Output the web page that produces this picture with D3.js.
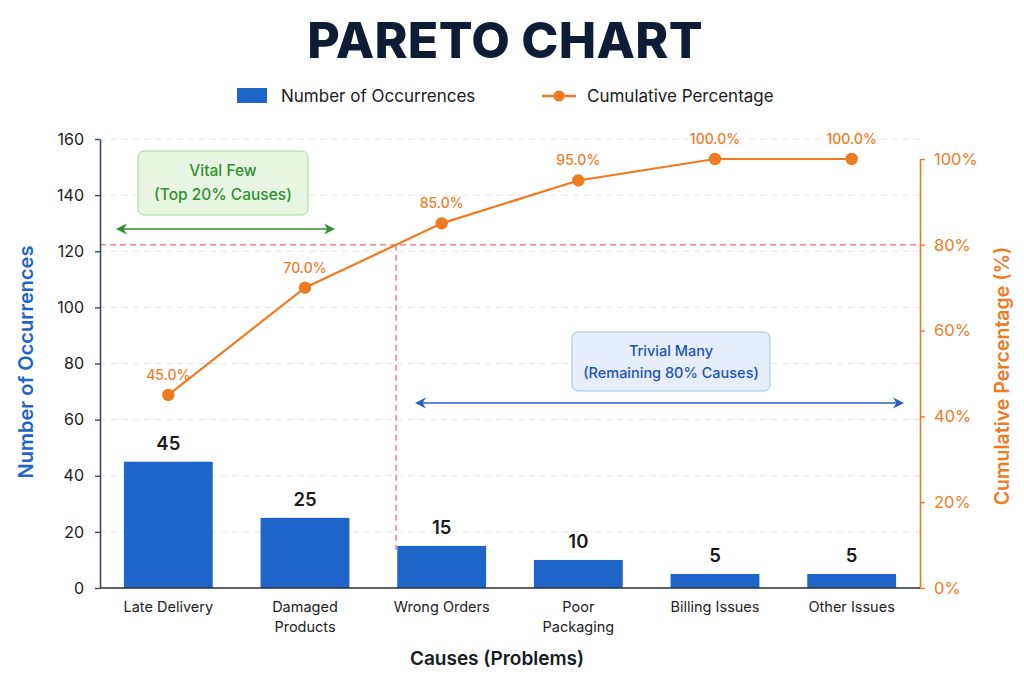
<!DOCTYPE html>
<html>
<head>
<meta charset="utf-8">
<script src="https://cdn.jsdelivr.net/npm/d3@7"></script>
<style>
  html, body { margin: 0; padding: 0; background: #ffffff; }
  svg { display: block; font-family: Inter, Roboto, "Noto Sans", sans-serif; }
</style>
</head>
<body>
<svg id="chart" width="1024" height="683"></svg>
<script>
// ---- data ----
const categories = ["Late Delivery", "Damaged Products", "Wrong Orders", "Poor Packaging", "Billing Issues", "Other Issues"];
const categoryLines = [["Late Delivery"], ["Damaged", "Products"], ["Wrong Orders"], ["Poor", "Packaging"], ["Billing Issues"], ["Other Issues"]];
const occurrences = [45, 25, 15, 10, 5, 5];
const cumulativePct = [45.0, 70.0, 85.0, 95.0, 100.0, 100.0];
const leftTicks = [0, 20, 40, 60, 80, 100, 120, 140, 160];
const rightTicks = [0, 20, 40, 60, 80, 100];
const thresholdPct = 80;

// ---- colours ----
const BLUE = "#1f65c9";
const ORANGE = "#ef7a1f";
const GREEN = "#2f8f2f";

const svg = d3.select("#chart");

const x = d3.scaleBand().domain(categories).range([100, 920]).paddingInner(0.35).paddingOuter(0.175);
const yL = d3.scaleLinear().domain([0, 160]).range([588, 139]);
const yR = d3.scaleLinear().domain([0, 100]).range([588, 159]);

// title
svg.append("text").attr("x", 505).attr("y", 58).attr("text-anchor", "middle")
  .attr("font-size", 50).attr("font-weight", 800).attr("fill", "#0f1c35")
  .attr("letter-spacing", 0.3).text("PARETO CHART");

// legend
const lg = svg.append("g");
lg.append("rect").attr("x", 237).attr("y", 88).attr("width", 30).attr("height", 15).attr("fill", BLUE);
lg.append("text").attr("x", 281).attr("y", 102).attr("font-size", 17).attr("fill", "#1a1a1a").text("Number of Occurrences");
lg.append("line").attr("x1", 542).attr("x2", 576).attr("y1", 96).attr("y2", 96).attr("stroke", ORANGE).attr("stroke-width", 2.5);
lg.append("circle").attr("cx", 559).attr("cy", 96).attr("r", 5.5).attr("fill", ORANGE);
lg.append("text").attr("x", 587).attr("y", 102).attr("font-size", 17).attr("fill", "#1a1a1a").text("Cumulative Percentage");

// gridlines
svg.append("g").selectAll("line").data(leftTicks.filter(d => d > 0)).join("line")
  .attr("x1", 100).attr("x2", 920).attr("y1", d => yL(d)).attr("y2", d => yL(d))
  .attr("stroke", "#e6e6e6").attr("stroke-width", 1).attr("stroke-dasharray", "6,5");

// 80% threshold lines (vertical at the point where the cumulative line crosses 80%)
const i1 = cumulativePct.findIndex(v => v >= thresholdPct);
const p0 = cumulativePct[i1 - 1], p1 = cumulativePct[i1];
const cx0 = x(categories[i1 - 1]) + x.bandwidth() / 2, cx1 = x(categories[i1]) + x.bandwidth() / 2;
const crossX = cx0 + (thresholdPct - p0) / (p1 - p0) * (cx1 - cx0);
svg.append("line").attr("x1", 100).attr("x2", 920).attr("y1", yR(thresholdPct)).attr("y2", yR(thresholdPct))
  .attr("stroke", "#e0707a").attr("stroke-width", 1.3).attr("stroke-dasharray", "6,4");
svg.append("line").attr("x1", crossX).attr("x2", crossX).attr("y1", yR(thresholdPct)).attr("y2", yL(occurrences[i1]) + 4)
  .attr("stroke", "#e0707a").attr("stroke-width", 1.3).attr("stroke-dasharray", "6,4");

// bars
svg.append("g").selectAll("rect").data(occurrences).join("rect")
  .attr("x", (d, i) => x(categories[i])).attr("width", x.bandwidth())
  .attr("y", d => yL(d)).attr("height", d => yL(0) - yL(d)).attr("fill", BLUE);

// bar labels
svg.append("g").selectAll("text").data(occurrences).join("text")
  .attr("x", (d, i) => x(categories[i]) + x.bandwidth() / 2).attr("y", d => yL(d) - 12)
  .attr("text-anchor", "middle").attr("font-size", 18.5).attr("font-weight", 600).attr("fill", "#1a1a1a")
  .text(d => d);

// axes
const axL = svg.append("g").attr("transform", "translate(100,0)")
  .call(d3.axisLeft(yL).tickValues(leftTicks).tickSize(5).tickSizeOuter(0).tickPadding(11));
axL.select(".domain").attr("stroke", "#3b4760").attr("stroke-width", 1.6);
axL.selectAll(".tick line").attr("stroke", "#3b4760").attr("stroke-width", 1.4);
axL.selectAll(".tick text").attr("font-size", 16).attr("fill", "#1a1a1a").attr("font-family", "Inter, Roboto, sans-serif");

const axR = svg.append("g").attr("transform", "translate(920,0)")
  .call(d3.axisRight(yR).tickValues(rightTicks).tickFormat(d => d + "%").tickSize(5).tickSizeOuter(0).tickPadding(9));
axR.select(".domain").attr("stroke", ORANGE).attr("stroke-width", 1.6);
axR.selectAll(".tick line").attr("stroke", ORANGE).attr("stroke-width", 1.4);
axR.selectAll(".tick text").attr("font-size", 16.5).attr("fill", ORANGE).attr("font-family", "Inter, Roboto, sans-serif");

// baseline
svg.append("line").attr("x1", 100).attr("x2", 920).attr("y1", yL(0)).attr("y2", yL(0))
  .attr("stroke", "#2b2f3a").attr("stroke-width", 1.6);

// category labels
const cl = svg.append("g").selectAll("text").data(categoryLines).join("text")
  .attr("x", (d, i) => x(categories[i]) + x.bandwidth() / 2).attr("y", 612)
  .attr("text-anchor", "middle").attr("font-size", 14.5).attr("fill", "#222");
cl.selectAll("tspan").data(d => d).join("tspan")
  .attr("x", function () { return d3.select(this.parentNode).attr("x"); })
  .attr("dy", (d, j) => j === 0 ? 0 : 19.5).text(d => d);

// axis titles
svg.append("text").attr("x", 497).attr("y", 665).attr("text-anchor", "middle")
  .attr("font-size", 19).attr("font-weight", 600).attr("fill", "#141a26").text("Causes (Problems)");
svg.append("text").attr("transform", "translate(33,362) rotate(-90)").attr("text-anchor", "middle")
  .attr("font-size", 20).attr("font-weight", 600).attr("fill", BLUE).text("Number of Occurrences");
svg.append("text").attr("transform", "translate(1009,376) rotate(-90)").attr("text-anchor", "middle")
  .attr("font-size", 19.5).attr("font-weight", 600).attr("fill", ORANGE).text("Cumulative Percentage (%)");

// cumulative line
const pts = cumulativePct.map((v, i) => [x(categories[i]) + x.bandwidth() / 2, yR(v)]);
svg.append("path").datum(pts).attr("d", d3.line())
  .attr("fill", "none").attr("stroke", ORANGE).attr("stroke-width", 2.2);
svg.append("g").selectAll("circle").data(pts).join("circle")
  .attr("cx", d => d[0]).attr("cy", d => d[1]).attr("r", 6.2).attr("fill", ORANGE);
svg.append("g").selectAll("text").data(cumulativePct).join("text")
  .attr("x", (d, i) => pts[i][0]).attr("y", (d, i) => pts[i][1] - 15)
  .attr("text-anchor", "middle").attr("font-size", 14).attr("font-weight", 500).attr("fill", ORANGE)
  .text(d => d.toFixed(1) + "%");

// annotations
function arrow(x1, x2, y, color, id) {
  const defs = svg.append("defs");
  defs.append("marker").attr("id", id).attr("viewBox", "0 0 10 10").attr("refX", 8).attr("refY", 5)
    .attr("markerWidth", 7).attr("markerHeight", 7).attr("orient", "auto-start-reverse")
    .append("path").attr("d", "M0,0 L10,5 L0,10 L3,5 z").attr("fill", color);
  svg.append("line").attr("x1", x1).attr("x2", x2).attr("y1", y).attr("y2", y)
    .attr("stroke", color).attr("stroke-width", 1.6)
    .attr("marker-start", `url(#${id})`).attr("marker-end", `url(#${id})`);
}
// Vital few
svg.append("rect").attr("x", 138).attr("y", 151).attr("width", 170).attr("height", 64).attr("rx", 6)
  .attr("fill", "#e8f5e3").attr("stroke", "#a9d59c").attr("stroke-width", 1);
svg.append("text").attr("x", 223).attr("y", 176).attr("text-anchor", "middle").attr("font-size", 15.5)
  .attr("font-weight", 500).attr("fill", GREEN).text("Vital Few");
svg.append("text").attr("x", 223).attr("y", 199.5).attr("text-anchor", "middle").attr("font-size", 15.5)
  .attr("font-weight", 500).attr("fill", GREEN).text("(Top 20% Causes)");
arrow(118, 333, 229, GREEN, "arrG");

// Trivial many
svg.append("rect").attr("x", 572).attr("y", 332).attr("width", 198).attr("height", 59).attr("rx", 6)
  .attr("fill", "#e5eefa").attr("stroke", "#a3bfe6").attr("stroke-width", 1);
svg.append("text").attr("x", 671).attr("y", 356).attr("text-anchor", "middle").attr("font-size", 14.5)
  .attr("font-weight", 500).attr("fill", "#1d54b3").text("Trivial Many");
svg.append("text").attr("x", 671).attr("y", 378).attr("text-anchor", "middle").attr("font-size", 14.5)
  .attr("font-weight", 500).attr("fill", "#1d54b3").text("(Remaining 80% Causes)");
arrow(417, 902, 403, "#2a5fc4", "arrB");
</script>
</body>
</html>
